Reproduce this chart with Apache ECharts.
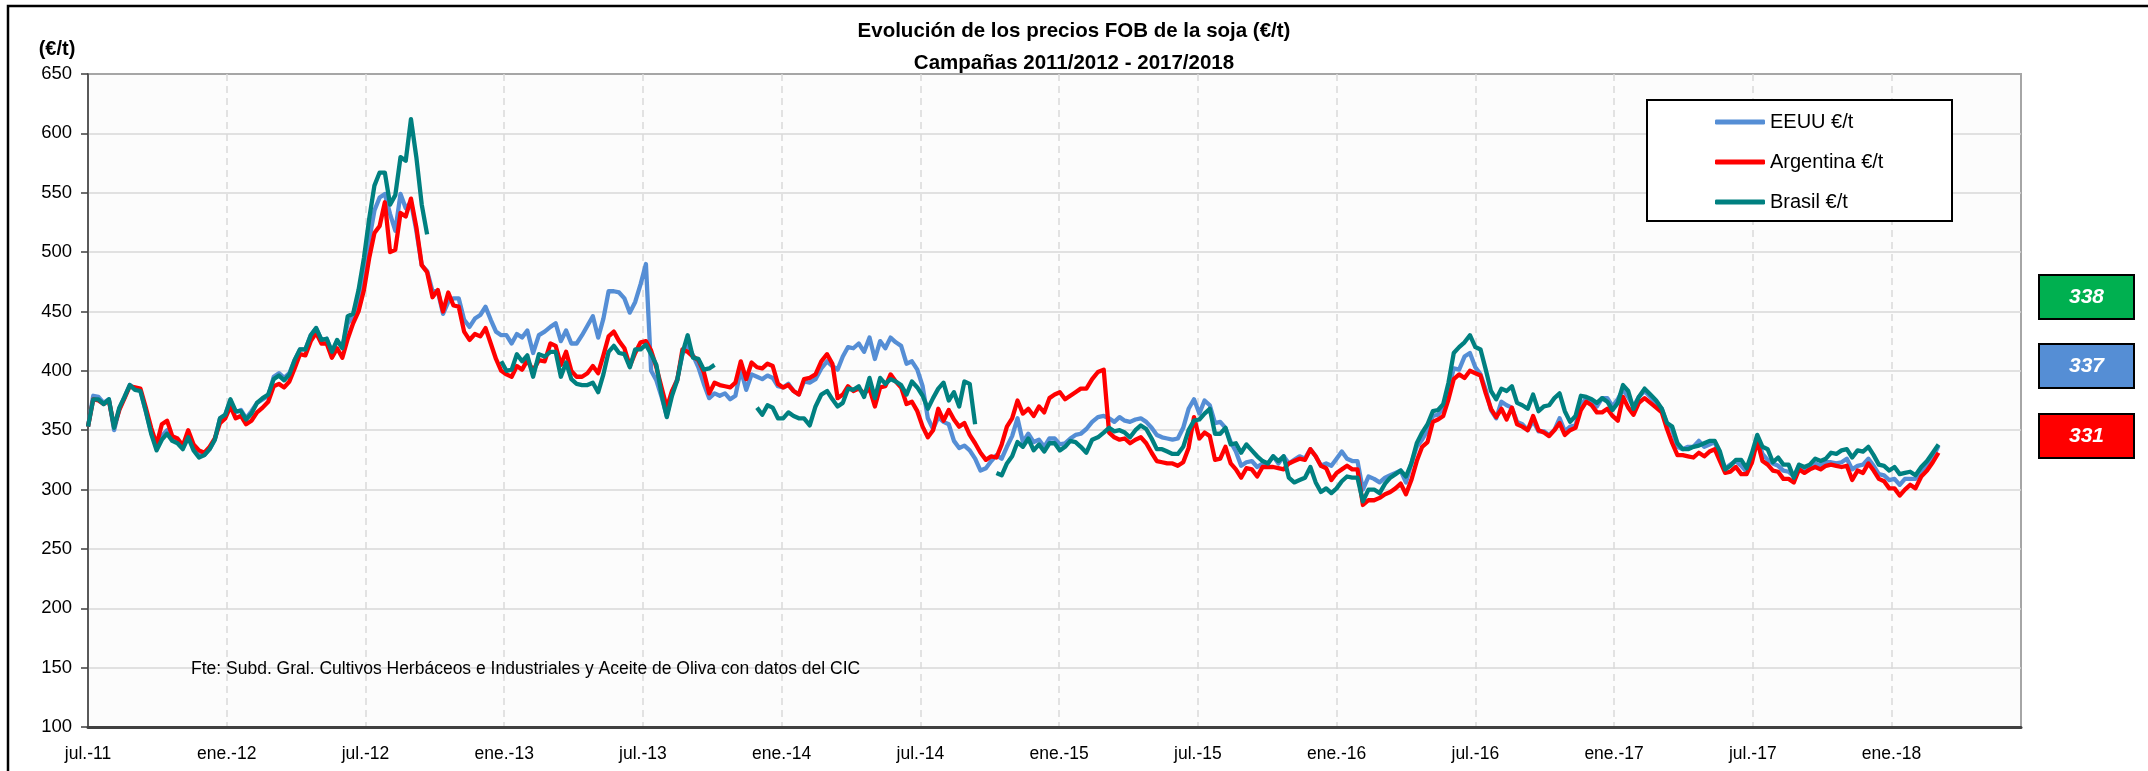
<!DOCTYPE html>
<html><head><meta charset="utf-8">
<script src="https://cdn.jsdelivr.net/npm/echarts@6/dist/echarts.min.js"></script>
<style>html,body{margin:0;padding:0;background:#fff}#c{width:2148px;height:771px}</style>
</head><body><div id="c"></div>
<script>
// Weekly FOB prices, first week = 1 Jul 2011, one value per week
const START_YEAR = 2011, START_MONTH = 6, START_DAY = 1, STEP_DAYS = 7;
const seriesNames = ['EEUU €/t', 'Argentina €/t', 'Brasil €/t'];
const xTickLabels = ['jul.-11','ene.-12','jul.-12','ene.-13','jul.-13','ene.-14','jul.-14','ene.-15','jul.-15','ene.-16','jul.-16','ene.-17','jul.-17','ene.-18'];
const eeuu = [
353,379,378,373,376,350,368,378,388,385,
383,366,348,335,345,350,342,340,335,346,
335,329,329,334,342,360,363,375,365,367,
360,366,373,376,379,395,398,394,398,409,
418,418,430,436,426,427,416,425,420,440,
446,462,480,510,535,546,549,532,518,549,
537,542,518,489,484,467,467,448,458,461,
461,443,437,444,447,454,443,433,430,430,
423,431,428,434,415,430,433,437,440,425,
434,423,423,430,438,446,428,444,467,467,
466,461,449,458,473,490,400,392,378,362,
382,393,414,422,413,403,389,377,381,379,
381,376,379,401,384,397,395,393,396,394,
387,386,389,383,380,391,390,393,402,408,
404,401,412,420,419,423,416,428,410,425,
419,428,424,421,406,408,401,387,360,351,
361,357,355,341,335,337,333,326,316,318,
324,329,326,336,345,360,340,347,340,342,
336,343,343,338,339,343,346,347,351,357,
361,362,360,357,361,358,357,359,360,357,
352,346,344,343,342,343,352,368,376,364,
375,371,356,357,352,340,332,320,323,324,
319,322,322,328,322,328,322,325,328,326,
334,328,320,322,320,326,332,326,324,324,
300,311,309,306,310,312,314,316,306,322,
336,342,350,362,363,369,385,402,401,412,
415,403,397,384,367,360,374,371,369,357,
355,350,358,349,349,346,350,360,349,353,
354,371,377,374,370,377,377,370,376,384,
378,370,378,383,378,373,368,355,350,336,
334,336,336,341,336,338,340,328,318,321,
324,320,315,326,344,330,325,322,320,316,
315,311,320,317,320,322,320,323,323,322,
323,326,317,320,321,326,320,313,312,308,
309,304,309,309,309,316,320,327,337];
const argentina = [
353,376,375,372,375,353,367,377,387,386,
385,369,352,338,355,358,345,343,337,350,
338,333,331,336,343,356,360,370,360,362,
355,358,365,369,374,387,389,386,391,402,
414,413,425,432,423,423,411,419,411,427,
440,450,468,495,516,522,542,500,502,533,
530,545,521,489,483,462,468,450,466,455,
454,433,426,431,429,436,423,410,400,397,
395,404,401,409,400,409,408,423,421,405,
416,400,395,395,398,404,398,413,429,433,
425,419,404,415,424,425,417,403,386,369,
383,392,418,416,412,409,399,381,390,388,
387,386,390,408,393,407,403,402,406,404,
389,386,388,383,380,393,394,397,408,414,
406,377,380,387,383,385,381,385,370,386,
387,397,391,386,372,374,366,353,344,350,
368,358,367,359,353,356,346,339,331,325,
328,327,338,353,360,375,364,368,362,370,
365,377,380,382,376,379,382,385,385,393,
399,401,348,344,342,343,339,342,344,339,
331,324,323,322,322,320,323,335,361,343,
348,345,325,326,336,322,317,310,318,317,
311,319,319,319,318,317,322,324,326,325,
334,328,320,318,308,314,317,320,317,317,
287,291,291,293,296,298,301,305,296,308,
324,336,340,357,359,362,376,393,397,394,
400,398,396,381,368,361,368,359,369,355,
353,350,362,350,348,345,350,356,346,350,
352,367,374,371,365,365,368,362,358,378,
369,363,373,377,373,369,365,351,339,329,
329,328,327,331,328,332,334,324,314,315,
319,313,313,323,341,324,321,316,315,309,
309,306,317,314,317,319,317,320,321,320,
319,320,308,316,314,322,316,309,307,301,
301,295,300,304,301,311,316,323,331];
const brasil = [
353,376,376,372,376,352,369,378,388,384,
383,366,347,333,342,347,341,339,334,344,
333,327,329,334,342,360,363,376,366,366,
359,364,373,377,380,393,396,392,397,409,
418,418,430,436,426,427,416,426,419,446,
448,468,495,528,556,567,567,540,548,580,
577,612,580,540,515,null,null,null,null,null,
null,null,null,null,null,null,null,null,408,400,
401,414,408,413,395,414,412,416,416,395,
407,393,389,388,388,390,382,397,416,421,
415,414,403,418,418,422,414,405,380,361,
379,392,415,430,411,410,401,402,405,null,
null,null,null,null,null,null,369,363,371,369,
360,360,365,362,360,360,354,370,380,383,
376,370,373,385,384,387,378,394,377,394,
389,393,391,388,380,391,386,379,368,377,
385,390,375,382,370,391,389,355,null,null,
null,314,312,322,328,340,336,343,333,338,
332,339,339,333,336,341,340,336,331,342,
344,348,352,349,350,348,344,350,354,351,
343,334,334,332,330,330,336,350,358,359,
364,368,347,347,352,338,339,331,338,333,
328,324,322,328,324,328,310,306,308,310,
319,306,298,301,297,301,307,311,310,310,
290,300,300,297,305,310,313,316,311,322,
339,348,355,366,367,372,390,415,420,424,
430,420,418,401,383,376,385,383,387,373,
371,368,380,366,370,371,377,381,366,357,
362,379,378,376,373,377,374,367,373,388,
383,368,378,385,380,375,368,356,353,339,
334,334,336,337,339,341,341,332,317,320,
325,325,318,331,346,336,334,323,327,321,
321,310,321,319,321,326,324,326,331,330,
333,334,327,333,332,336,329,321,320,316,
319,313,314,315,312,319,324,331,338];
const latestLabels = ['338', '337', '331'];

const FONT = 'Liberation Sans, Arial, sans-serif';
const COLORS = ['#558ED5', '#FF0000', '#008080'];

function monthIndex(d) {
  const y = d.getFullYear(), m = d.getMonth(), day = d.getDate();
  const dim = new Date(y, m + 1, 0).getDate();
  return (y - START_YEAR) * 12 + (m - START_MONTH) + (day - 1) / dim;
}
const xs = eeuu.map((_, k) => monthIndex(new Date(START_YEAR, START_MONTH, START_DAY + STEP_DAYS * k)));
const toData = arr => arr.map((v, k) => [xs[k], v]);

const chart = echarts.init(document.getElementById('c'), null, {renderer: 'canvas'});
const boxDefs = [
  {y: 275, fill: '#00B050', label: latestLabels[0]},
  {y: 344, fill: '#558ED5', label: latestLabels[1]},
  {y: 414, fill: '#FF0000', label: latestLabels[2]}
];
const graphics = [
  {type: 'polyline', shape: {points: [[8, 771], [8, 6], [2148, 6]]}, style: {stroke: '#000', lineWidth: 2.5, fill: null}, z: 10},
  {type: 'rect', shape: {x: 1647, y: 100, width: 305, height: 121}, style: {fill: '#fff', stroke: '#000', lineWidth: 2}, z: 1},
  {type: 'text', x: 57, y: 49, style: {text: '(€/t)', fill: '#000', font: 'bold 20px ' + FONT, align: 'center', verticalAlign: 'middle', textAlign: 'center', textVerticalAlign: 'middle'}, z: 10},
  {type: 'text', x: 191, y: 669, style: {text: 'Fte: Subd. Gral. Cultivos Herbáceos e Industriales y Aceite de Oliva con datos del CIC', fill: '#000', font: '17.5px ' + FONT, align: 'left', verticalAlign: 'middle', textAlign: 'left', textVerticalAlign: 'middle'}, z: 10}
];
boxDefs.forEach(b => {
  graphics.push({type: 'rect', shape: {x: 2039, y: b.y, width: 95, height: 44}, style: {fill: b.fill, stroke: '#000', lineWidth: 2}, z: 10});
  graphics.push({type: 'text', x: 2086.5, y: b.y + 22, style: {text: b.label, fill: '#fff', font: 'italic bold 21px ' + FONT, align: 'center', verticalAlign: 'middle', textAlign: 'center', textVerticalAlign: 'middle'}, z: 11});
});

chart.setOption({
  animation: false,
  backgroundColor: '#fff',
  textStyle: {fontFamily: FONT},
  title: {
    text: 'Evolución de los precios FOB de la soja (€/t)\nCampañas 2011/2012 - 2017/2018',
    left: 'center', top: 10,
    textStyle: {fontSize: 20.5, fontWeight: 'bold', color: '#000', lineHeight: 32, fontFamily: FONT}
  },
  grid: {left: 88, right: 127, top: 74, bottom: 44, show: true, backgroundColor: '#fcfcfc', borderColor: '#a6a6a6', borderWidth: 2},
  legend: {
    orient: 'vertical', left: 1710, top: 107, itemWidth: 50, itemHeight: 5, itemGap: 20,
    icon: 'roundRect', data: seriesNames, z: 5,
    textStyle: {fontSize: 20, color: '#000', fontFamily: FONT}
  },
  xAxis: {
    type: 'value', min: 0, max: 83.6, interval: 6,
    axisLine: {show: true, onZero: false, lineStyle: {color: '#404040', width: 3}},
    axisTick: {show: false},
    axisLabel: {
      fontSize: 17.5, color: '#000', margin: 18, showMaxLabel: false, fontFamily: FONT,
      formatter: v => { const i = Math.round(v / 6); return Math.abs(v - i * 6) < 1e-6 ? (xTickLabels[i] || '') : ''; }
    },
    splitLine: {show: true, showMinLine: false, showMaxLine: false, lineStyle: {color: '#d9d9d9', width: 1.5, type: [7, 5]}}
  },
  yAxis: {
    type: 'value', min: 100, max: 650, interval: 50,
    axisLine: {show: true, lineStyle: {color: '#404040', width: 1.5}},
    axisTick: {show: true, length: 7, lineStyle: {color: '#404040', width: 1.5}},
    axisLabel: {fontSize: 18.5, color: '#000', margin: 16, fontFamily: FONT},
    splitLine: {show: true, showMinLine: false, showMaxLine: false, lineStyle: {color: '#d9d9d9', width: 1.5}}
  },
  series: [eeuu, argentina, brasil].map((arr, i) => ({
    type: 'line', name: seriesNames[i], data: toData(arr),
    showSymbol: false, symbol: 'none', connectNulls: false,
    lineStyle: {width: 4.3, color: COLORS[i], join: 'round'},
    itemStyle: {color: COLORS[i]}, z: 2 + i
  })),
  graphic: graphics
});
</script></body></html>
